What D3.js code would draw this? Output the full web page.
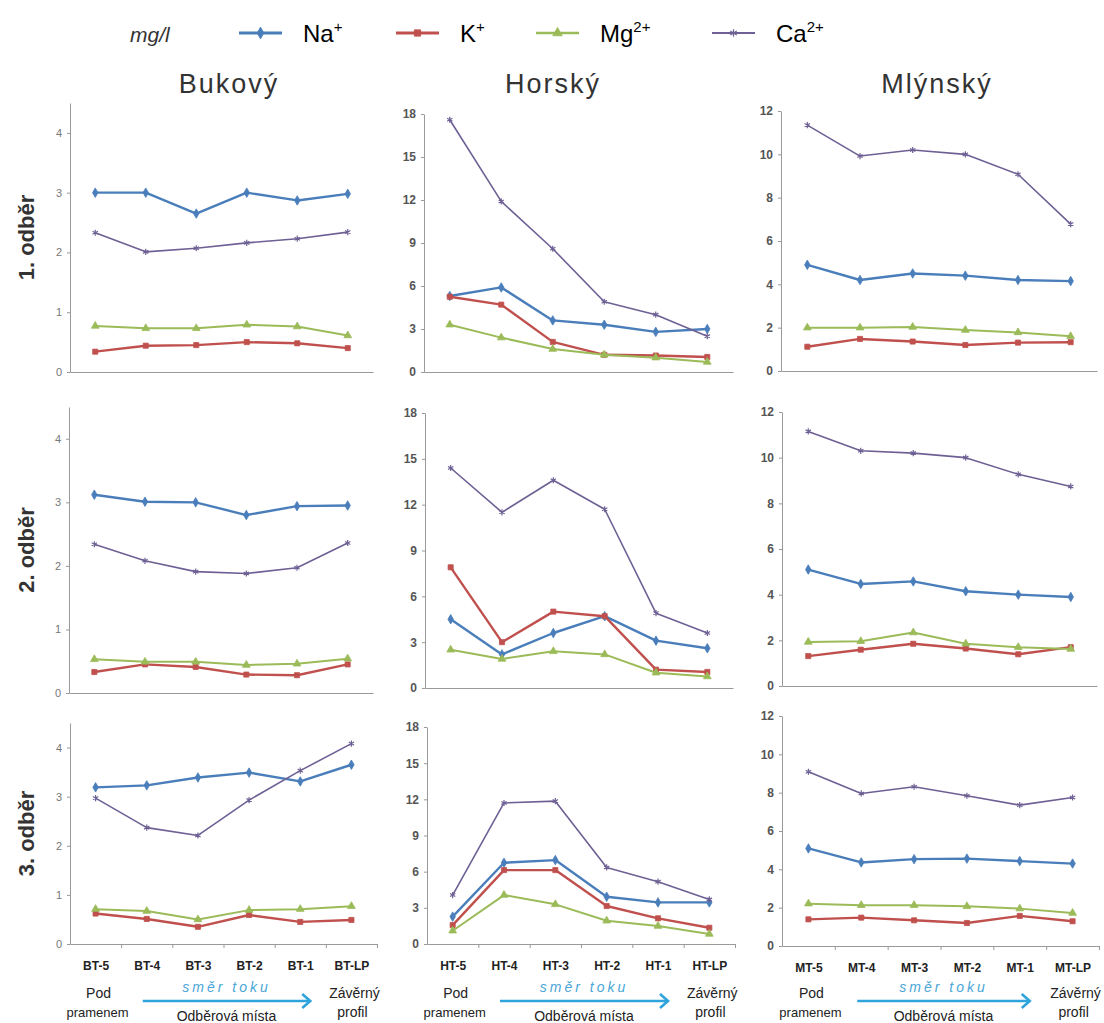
<!DOCTYPE html>
<html>
<head>
<meta charset="utf-8">
<script src="https://cdn.jsdelivr.net/npm/d3@7"></script>
<style>
  body { margin: 0; background: #fff; }
  text { font-family: "Liberation Sans", Arial, sans-serif; }
</style>
</head>
<body>
<svg id="chart" width="1104" height="1023"></svg>
<script>
// ions in series order
const ions = ['Na', 'K', 'Mg', 'Ca'];
const ionCharges = ['+', '+', '2+', '2+'];

const streams = ['Bukový', 'Horský', 'Mlýnský'];
const samplings = ['1. odběr', '2. odběr', '3. odběr'];

const sitesBukovy = ['BT-5', 'BT-4', 'BT-3', 'BT-2', 'BT-1', 'BT-LP'];
const sitesHorsky = ['HT-5', 'HT-4', 'HT-3', 'HT-2', 'HT-1', 'HT-LP'];
const sitesMlynsky = ['MT-5', 'MT-4', 'MT-3', 'MT-2', 'MT-1', 'MT-LP'];

const ticksBukovy = [0, 1, 2, 3, 4];
const ticksHorsky = [0, 3, 6, 9, 12, 15, 18];
const ticksMlynsky = [0, 2, 4, 6, 8, 10, 12];
const yMaxes = [4.5, 18, 12];

// each panel: [Na, K, Mg, Ca], mg/l
const bukovy1 = [
  [3.00, 3.00, 2.65, 3.00, 2.87, 2.98],
  [0.34, 0.44, 0.45, 0.50, 0.48, 0.40],
  [0.77, 0.73, 0.73, 0.79, 0.76, 0.61],
  [2.33, 2.01, 2.07, 2.16, 2.23, 2.34]
];
const horsky1 = [
  [5.3, 5.9, 3.6, 3.3, 2.8, 3.0],
  [5.25, 4.7, 2.1, 1.2, 1.15, 1.05],
  [3.3, 2.4, 1.6, 1.2, 1.0, 0.7],
  [17.6, 11.9, 8.6, 4.9, 4.0, 2.5]
];
const mlynsky1 = [
  [4.9, 4.2, 4.5, 4.4, 4.2, 4.15],
  [1.12, 1.48, 1.36, 1.2, 1.31, 1.33],
  [2.0, 2.0, 2.03, 1.89, 1.78, 1.6],
  [11.35, 9.92, 10.2, 10.0, 9.08, 6.78]
];
const bukovy2 = [
  [3.12, 3.01, 3.00, 2.80, 2.94, 2.95],
  [0.33, 0.45, 0.41, 0.29, 0.28, 0.45],
  [0.53, 0.49, 0.49, 0.44, 0.46, 0.54],
  [2.34, 2.08, 1.91, 1.88, 1.97, 2.36]
];
const horsky2 = [
  [4.5, 2.2, 3.6, 4.7, 3.1, 2.6],
  [7.9, 3.0, 5.0, 4.7, 1.2, 1.05],
  [2.5, 1.9, 2.4, 2.2, 1.0, 0.75],
  [14.4, 11.5, 13.6, 11.7, 4.9, 3.6]
];
const mlynsky2 = [
  [5.1, 4.47, 4.58, 4.15, 4.0, 3.9],
  [1.31, 1.59, 1.85, 1.64, 1.39, 1.7],
  [1.93, 1.96, 2.34, 1.85, 1.7, 1.62],
  [11.15, 10.3, 10.2, 10.0, 9.27, 8.74]
];
const bukovy3 = [
  [3.19, 3.23, 3.39, 3.49, 3.31, 3.65],
  [0.62, 0.51, 0.35, 0.59, 0.45, 0.49],
  [0.71, 0.67, 0.50, 0.69, 0.71, 0.77],
  [2.97, 2.37, 2.21, 2.93, 3.53, 4.08]
];
const horsky3 = [
  [2.27, 6.74, 6.96, 3.92, 3.45, 3.45],
  [1.57, 6.13, 6.13, 3.15, 2.13, 1.35],
  [1.1, 4.06, 3.29, 1.93, 1.49, 0.83],
  [4.06, 11.7, 11.85, 6.35, 5.17, 3.7]
];
const mlynsky3 = [
  [5.09, 4.36, 4.53, 4.56, 4.43, 4.3],
  [1.39, 1.48, 1.34, 1.2, 1.57, 1.29],
  [2.21, 2.13, 2.13, 2.07, 1.95, 1.72],
  [9.09, 7.96, 8.31, 7.84, 7.35, 7.75]
];

const sites = [sitesBukovy, sitesHorsky, sitesMlynsky];
const ticks = [ticksBukovy, ticksHorsky, ticksMlynsky];
const panels = [
  [bukovy1, horsky1, mlynsky1],
  [bukovy2, horsky2, mlynsky2],
  [bukovy3, horsky3, mlynsky3]
];

// plot boxes, row by row
const boxes = [
  [{x0: 70, x1: 373, y0: 103, y1: 372}, {x0: 424, x1: 733, y0: 114, y1: 372}, {x0: 781, x1: 1097, y0: 111, y1: 371}],
  [{x0: 69, x1: 373, y0: 407, y1: 693}, {x0: 425, x1: 733, y0: 413, y1: 688}, {x0: 782, x1: 1097, y0: 412, y1: 686}],
  [{x0: 70, x1: 377, y0: 723, y1: 944}, {x0: 427, x1: 735, y0: 727, y1: 944}, {x0: 782, x1: 1099, y0: 716, y1: 946}]
];

const colors = ['#4a7ebb', '#c0504d', '#9bbb59', '#6e6094'];
const widths = [2.4, 2.4, 2, 1.6];
const shapes = [d3.symbolDiamond, d3.symbolSquare, d3.symbolTriangle, d3.symbolAsterisk];

const svg = d3.select('#chart');

const marker = (sel, i, size) => {
  const path = d3.symbol().type(shapes[i]).size(size)();
  if (i === 3) {
    sel.attr('d', path).attr('fill', 'none').attr('stroke', colors[i]).attr('stroke-width', 1.2);
  } else {
    sel.attr('d', path).attr('fill', colors[i]).attr('stroke', colors[i]).attr('stroke-width', 0.8);
  }
};

// legend
svg.append('text')
  .attr('x', 130).attr('y', 42)
  .attr('font-size', 21).attr('font-style', 'italic').attr('fill', '#333')
  .text('mg/l');

const legendX = [239, 396, 536, 712];
ions.forEach((ion, i) => {
  const lg = svg.append('g').attr('transform', `translate(${legendX[i]},33)`);
  lg.append('line').attr('x1', 0).attr('x2', 43)
    .attr('stroke', colors[i]).attr('stroke-width', widths[i] + 0.6);
  lg.append('path').attr('transform', 'translate(21.5,0)').call(marker, i, 40);
  const t = lg.append('text').attr('x', 64).attr('y', 9)
    .attr('font-size', 24).attr('fill', '#000')
    .attr('font-family', '"Liberation Sans Narrow", "Arial Narrow", "Liberation Sans", sans-serif');
  t.append('tspan').text(ion);
  t.append('tspan').attr('dy', -10).attr('font-size', 15).text(ionCharges[i]);
});

// stream titles
const titleX = [229, 553, 937];
streams.forEach((s, c) => {
  svg.append('text')
    .attr('x', titleX[c]).attr('y', 93)
    .attr('text-anchor', 'middle')
    .attr('font-family', '"Open Sans", sans-serif')
    .attr('font-size', 27).attr('letter-spacing', 2).attr('fill', '#333')
    .text(s);
});

// sampling titles
samplings.forEach((s, r) => {
  const b = boxes[r][0];
  svg.append('text')
    .attr('transform', `translate(34,${(b.y0 + b.y1) / 2}) rotate(-90)`)
    .attr('text-anchor', 'middle')
    .attr('font-size', 22).attr('font-weight', 'bold').attr('fill', '#333')
    .text(s);
});

const drawPanel = (r, c) => {
  const b = boxes[r][c];
  const data = panels[r][c];
  const g = svg.append('g');
  const x = d3.scalePoint().domain(sites[c]).range([b.x0, b.x1]).padding(0.5);
  const y = d3.scaleLinear().domain([0, yMaxes[c]]).range([b.y1, b.y0]);
  const edges = d3.scaleLinear().domain([0, 6]).range([b.x0, b.x1]);

  // y axis
  const ya = g.append('g').attr('transform', `translate(${b.x0},0)`)
    .call(d3.axisLeft(y).tickValues(ticks[c]).tickFormat(d3.format('d'))
      .tickSize(3).tickSizeOuter(0).tickPadding(5));
  ya.select('.domain').attr('stroke', '#999');
  ya.selectAll('.tick line').attr('stroke', '#999');
  ya.selectAll('.tick text')
    .attr('font-family', '"Liberation Sans", Arial, sans-serif')
    .attr('font-size', c === 0 ? 11 : 12)
    .attr('font-weight', c === 0 ? 'normal' : 'bold')
    .attr('fill', c === 0 ? '#777' : '#555');

  // x axis
  const xa = g.append('g').attr('transform', `translate(0,${b.y1})`)
    .call(d3.axisBottom(edges).tickValues(r === 2 ? d3.range(1, 7) : [])
      .tickSize(4).tickSizeOuter(0).tickFormat(''));
  xa.select('.domain').attr('stroke', '#999');
  xa.selectAll('.tick line').attr('stroke', '#999');

  // series
  const line = d3.line().x((d, i) => x(sites[c][i])).y(d => y(d));
  data.forEach((vals, i) => {
    g.append('path').datum(vals)
      .attr('d', line)
      .attr('fill', 'none')
      .attr('stroke', colors[i])
      .attr('stroke-width', widths[i])
      .attr('stroke-linejoin', 'round');
    g.selectAll(null).data(vals).join('path')
      .attr('transform', (d, k) => `translate(${x(sites[c][k])},${y(d)})`)
      .call(marker, i, 26);
  });

  if (r === 2) {
    // category labels
    const la = g.append('g').attr('transform', `translate(0,${b.y1 + 17})`)
      .call(d3.axisBottom(x).tickSize(0).tickPadding(0));
    la.select('.domain').remove();
    la.selectAll('.tick text')
      .attr('font-family', '"Liberation Sans Narrow", "Liberation Sans", sans-serif')
      .attr('font-size', 12).attr('font-weight', 'bold').attr('fill', '#222');

    const first = x(sites[c][0]);
    const last = x(sites[c][5]);
    const note = (tx, xx, yy, size) => g.append('text')
      .attr('x', xx).attr('y', yy).attr('text-anchor', 'middle')
      .attr('font-size', size).attr('fill', '#222').text(tx);
    note('Pod', first + 3, 998, 14);
    note('pramenem', first + 2, 1017, 13);
    note('Závěrný', last + 3, 998, 14);
    note('profil', last + 1, 1017, 14);

    const a0 = x(sites[c][1]) - 4;
    const a1 = x(sites[c][4]) + 10;
    g.append('line').attr('x1', a0).attr('x2', a1 - 1)
      .attr('y1', 1001).attr('y2', 1001)
      .attr('stroke', '#2ea3dc').attr('stroke-width', 2.6);
    g.append('path')
      .attr('d', `M${a1 - 8},${994}L${a1},${1001}L${a1 - 8},${1008}`)
      .attr('fill', 'none').attr('stroke', '#2ea3dc').attr('stroke-width', 2.6);
    g.append('text')
      .attr('x', (a0 + a1) / 2).attr('y', 992).attr('text-anchor', 'middle')
      .attr('font-size', 14).attr('font-style', 'italic').attr('letter-spacing', 3)
      .attr('fill', '#4aa6d8').text('směr toku');
    g.append('text')
      .attr('x', (a0 + a1) / 2).attr('y', 1021).attr('text-anchor', 'middle')
      .attr('font-size', 14).attr('fill', '#222').text('Odběrová místa');
  }
};

for (let r = 0; r < 3; r++) {
  for (let c = 0; c < 3; c++) drawPanel(r, c);
}
</script>
</body>
</html>
